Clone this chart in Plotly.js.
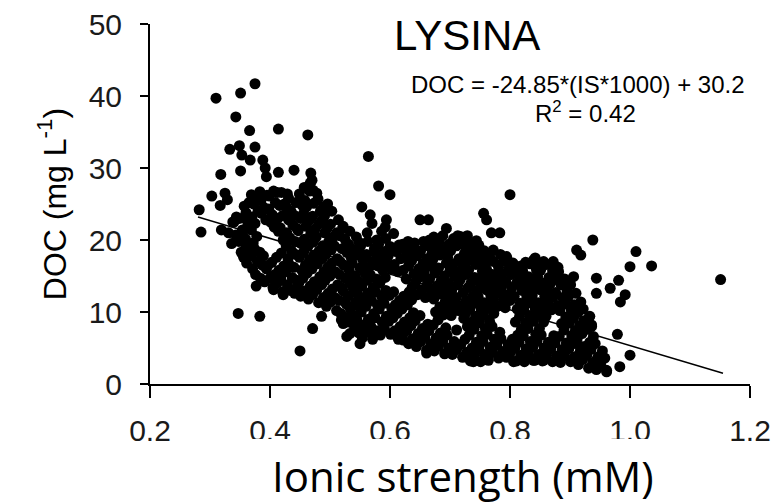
<!DOCTYPE html>
<html>
<head>
<meta charset="utf-8">
<script src="https://cdn.plot.ly/plotly-3.0.1.min.js"></script>
<style>html,body{margin:0;padding:0;background:#fff;}#chart{width:784px;height:503px;}</style>
</head>
<body>
<div id="chart"></div>
<script>
// Scattered / edge points
const isEdge = [0.375,0.351,0.310,0.343,0.366,0.414,0.463,0.333,0.349,0.375,0.353,0.367,0.388,0.392,0.318,0.351,0.394,0.414,0.440,0.468,0.303,0.325,0.317,0.329,0.282,0.285,0.344,0.319,0.383,0.467,0.478,0.347,0.383,0.486,0.471,0.450,0.377,0.406,0.422,0.444,0.458,0.519,0.528,
  0.564,0.581,0.600,0.553,0.567,0.570,0.594,0.606,0.650,0.664,0.694,0.800,0.756,0.761,0.769,0.783,0.678,0.656,0.622,0.600,0.550,0.522,0.717,0.839,0.819,0.794,0.550,0.572,0.622,0.661,0.711,0.739,0.767,0.806,0.839,0.522,0.533,
  0.938,0.911,0.918,1.010,1.000,1.036,1.151,0.944,0.944,0.981,0.967,0.992,0.984,0.872,0.842,0.906,0.933,0.936,0.979,1.000,0.983,0.961,0.944,0.917,0.889,0.856];
const docEdge = [41.7,40.4,39.7,37.1,35.2,35.4,34.6,32.6,33.1,32.9,31.8,31.1,31.1,30.0,29.1,29.6,28.8,29.4,29.7,29.3,26.1,26.5,24.8,25.6,24.2,21.1,23.2,21.4,26.7,27.9,26.5,9.8,9.4,9.4,7.7,4.6,13.6,13.1,12.4,13.3,12.6,8.9,6.6,
  31.6,27.5,26.3,24.6,23.5,22.3,22.8,20.9,22.8,22.8,21.6,26.3,23.7,22.8,21.0,21.0,20.0,19.8,18.8,19.1,18.1,21.9,20.5,17.2,15.6,17.7,5.6,6.8,6.1,4.3,7.5,3.1,4.3,3.1,3.3,8.4,7.0,
  20.0,18.6,17.9,18.4,16.3,16.4,14.5,14.7,12.6,14.4,13.3,12.4,11.4,17.0,17.5,14.9,9.4,8.0,6.9,4.0,2.4,1.7,3.3,5.2,4.3,3.3];

// Dense cloud, low ionic strength part
const isCoreA = [0.336,0.331,0.338, 0.352,0.348,0.354,0.349,
  0.361,0.364,0.359,0.363,0.360,0.365,
  0.376,0.379,0.374,0.378,0.375,0.380,0.377,
  0.391,0.394,0.389,0.393,0.390,0.395,
  0.405,0.408,0.403,0.407,0.404,0.409,0.406,
  0.421,0.418,0.423,0.419,0.422,0.417,0.421,0.424,0.419,
  0.434,0.437,0.432,0.436,0.433,0.438,0.435,0.431,
  0.451,0.448,0.453,0.449,0.452,0.447,0.451,0.454,0.449,
  0.464,0.467,0.462,0.466,0.463,0.468,0.465,0.461,0.466,0.470,
  0.481,0.478,0.483,0.479,0.482,0.477,0.481,0.484,0.480];
const docCoreA = [19.5,21.0,22.5, 18.3,19.8,21.4,23.0,
  16.8,18.5,20.2,22.0,23.8,25.2,
  15.2,17.0,18.8,20.5,22.3,24.0,25.6,
  14.2,16.0,17.8,22.8,24.5,26.2,
  13.4,15.2,16.9,21.8,23.5,25.2,26.8,
  12.8,14.6,16.4,18.2,20.0,21.7,23.4,25.0,26.6,
  13.0,14.8,16.6,18.5,20.3,22.1,24.0,25.8,
  12.2,14.0,15.8,17.6,19.5,21.3,23.0,24.8,26.4,
  11.8,13.6,15.4,17.3,19.1,20.9,22.7,24.6,26.8,28.3,
  11.3,13.1,14.9,16.7,18.5,20.4,22.2,24.0,25.7];

// Dense cloud, middle part
const isCoreB = [0.494,0.497,0.492,0.496,0.493,0.498,0.495,0.491,0.496,
  0.511,0.508,0.513,0.509,0.512,0.507,0.511,0.514,
  0.524,0.527,0.522,0.526,0.523,0.528,0.525,0.521,
  0.541,0.538,0.543,0.539,0.542,0.537,0.541,0.544,
  0.554,0.557,0.552,0.556,0.553,0.558,0.555,0.551,
  0.571,0.568,0.573,0.569,0.572,0.567,0.571,0.574,
  0.584,0.587,0.582,0.586,0.583,0.588,0.585,0.581,0.586,
  0.601,0.598,0.603,0.599,0.602,0.597,
  0.614,0.617,0.612,0.616,0.613,0.618,0.615,
  0.631,0.628,0.633,0.629,0.632,0.627,0.631,0.634,0.630,
  0.644,0.647,0.642,0.646,0.643,0.648,0.645,0.641,
  0.661,0.658,0.663,0.659,0.662,0.657,0.661,0.664,
  0.674,0.677,0.672,0.676,0.673,0.678,0.675,0.671,0.676,0.673,
  0.691,0.688,0.693,0.689,0.692,0.687,0.691,0.694,0.690,0.688];
const docCoreB = [10.8,12.6,14.4,16.2,18.0,19.8,21.6,23.4,25.0,
  10.2,12.0,13.8,15.6,17.4,19.2,21.0,22.8,
  9.3,11.1,12.9,14.7,16.5,18.3,20.1,21.6,
  7.8,9.6,11.4,13.2,15.0,16.8,18.6,20.4,
  6.4,8.2,10.0,11.8,13.6,15.4,17.2,19.2,
  6.2,8.0,9.8,11.6,13.4,15.2,17.0,18.8,
  6.8,8.6,10.4,12.2,14.0,15.8,17.6,19.4,21.2,
  6.9,8.7,10.5,12.3,16.0,17.8,
  6.2,8.0,9.8,11.6,15.6,17.4,19.3,
  5.6,7.4,9.2,11.0,12.8,14.6,16.4,18.2,19.8,
  5.2,7.0,8.8,12.4,14.2,16.0,17.8,19.6,
  4.7,6.5,8.3,12.0,13.8,15.6,17.4,19.2,
  4.6,6.4,8.2,10.0,11.8,13.6,15.4,17.2,19.0,20.4,
  4.2,6.0,7.8,9.6,11.4,13.2,15.0,16.8,18.6,20.6];

// Dense cloud, high ionic strength part
const isCoreC = [0.704,0.707,0.702,0.706,0.703,0.708,0.705,0.701,0.706,
  0.721,0.718,0.723,0.719,0.722,0.717,0.721,0.724,0.720,
  0.734,0.737,0.732,0.736,0.733,0.738,0.735,0.731,0.736,0.733,0.729,
  0.751,0.748,0.753,0.749,0.752,0.747,0.751,0.754,0.750,0.748,
  0.764,0.767,0.762,0.766,0.763,0.768,0.765,0.761,0.766,
  0.781,0.778,0.783,0.779,0.782,0.777,0.781,0.784,
  0.794,0.797,0.792,0.796,0.793,0.798,0.795,
  0.811,0.808,0.813,0.809,0.812,0.807,0.811,0.814,
  0.824,0.827,0.822,0.826,0.823,0.828,0.825,0.821,0.826,
  0.841,0.838,0.843,0.839,0.842,0.837,0.841,0.844,
  0.854,0.857,0.852,0.856,0.853,0.858,0.855,0.851,0.856,
  0.871,0.868,0.873,0.869,0.872,0.867,0.871,
  0.884,0.887,0.882,0.886,0.883,0.888,0.885,0.881,
  0.901,0.898,0.903,0.899,0.902,0.897,0.901,
  0.914,0.917,0.912,0.916,0.913,0.918,
  0.931,0.928,0.933,0.929,0.932,
  0.944,0.947,0.942,
  0.961,0.958];
const docCoreC = [4.1,5.9,9.5,11.3,13.1,14.9,16.7,18.5,20.2,
  3.7,5.5,9.1,10.9,12.7,14.5,16.3,18.1,19.9,
  3.2,5.0,6.8,8.6,10.4,12.2,14.0,15.8,17.6,19.5,20.6,
  3.1,4.9,6.7,8.5,10.3,12.1,13.9,15.7,17.5,19.3,
  3.3,5.1,6.9,8.7,10.5,12.3,14.1,15.9,17.7,
  3.6,5.4,7.2,10.8,12.6,14.4,16.2,18.0,
  3.7,5.5,10.6,12.4,14.2,16.0,17.4,
  3.2,5.0,6.8,8.6,10.4,12.2,14.0,15.8,
  3.1,4.9,6.7,8.5,10.3,12.1,13.9,15.7,16.9,
  3.3,5.1,6.9,8.7,10.5,12.3,14.1,15.9,
  3.2,5.0,6.8,8.6,10.4,12.2,14.0,15.8,17.0,
  3.1,4.9,6.7,10.3,12.1,13.9,15.7,
  3.0,4.8,6.6,8.4,10.2,12.0,13.8,15.6,
  3.1,4.9,6.7,8.5,10.3,12.1,13.8,
  2.7,4.5,6.3,8.1,9.9,11.4,
  2.2,4.0,5.8,7.6,9.3,
  2.0,3.8,5.6,
  1.9,3.6];

// Dense cloud, points lying between the ones above
const isCoreD = [0.343,0.340,
  0.356,0.359,0.355,0.358,0.357,
  0.371,0.368,0.372,0.369,0.370,0.373,0.369,
  0.384,0.387,0.383,0.386,0.385,
  0.400,0.397,0.401,0.398,0.399,
  0.412,0.415,0.411,0.414,0.413,0.416,0.412,
  0.429,0.426,0.430,0.427,0.428,0.431,0.427,0.429,
  0.441,0.444,0.440,0.443,0.442,0.445,0.441,0.443,
  0.458,0.455,0.459,0.456,0.457,0.460,0.456,0.458,0.457,
  0.471,0.474,0.470,0.473,0.472,0.475,0.471,0.473,0.472,
  0.489,0.486,0.490,0.487,0.488,0.491,0.487,0.489,
  0.501,0.504,0.500,0.503,0.502,0.505,0.501,0.503,
  0.518,0.515,0.519,0.516,0.517,0.520,0.516,
  0.531,0.534,0.530,0.533,0.532,0.535,0.531,0.533,
  0.548,0.545,0.549,0.546,0.547,0.550,0.546,0.548,
  0.561,0.564,0.560,0.563,0.562,0.565,0.561,0.563,0.562,
  0.578,0.575,0.579,0.576,0.577,0.580,0.576,0.578,
  0.591,0.594,0.590,0.593,0.592,0.595,0.591,0.593,0.592,
  0.608,0.605,0.609,0.606,0.607,0.610,
  0.621,0.624,0.620,0.623,0.622,0.625,0.621,
  0.638,0.635,0.639,0.636,0.637,0.640,0.636,0.638,
  0.651,0.654,0.650,0.653,0.652,0.655,0.651,
  0.668,0.665,0.669,0.666,0.667,0.670,0.666,
  0.681,0.684,0.680,0.683,0.682,0.685,0.681,0.683,0.682,
  0.698,0.695,0.699,0.696,0.697,0.700,0.696,0.698,
  0.711,0.714,0.710,0.713,0.712,0.715,0.711,0.713,
  0.728,0.725,0.729,0.726,0.727,0.730,0.726,0.728,0.727,0.725,
  0.741,0.744,0.740,0.743,0.742,0.745,0.741,0.743,0.742,0.744,
  0.758,0.755,0.759,0.756,0.757,0.760,0.756,0.758,0.757,
  0.771,0.774,0.770,0.773,0.772,0.775,0.771,0.773,0.772,
  0.788,0.785,0.789,0.786,0.787,0.790,
  0.801,0.804,0.800,0.803,0.802,0.805,
  0.818,0.815,0.819,0.816,0.817,0.820,0.816,0.818,
  0.831,0.834,0.830,0.833,0.832,0.835,0.831,0.833,
  0.848,0.845,0.849,0.846,0.847,0.850,0.846,0.848,
  0.861,0.864,0.860,0.863,0.862,0.865,0.861,
  0.878,0.875,0.879,0.876,0.877,0.880,
  0.891,0.894,0.890,0.893,0.892,0.895,0.891,
  0.908,0.905,0.909,0.906,0.907,0.910,
  0.921,0.924,0.920,0.923,0.922,
  0.938,0.935,0.939,0.936,
  0.951,0.954];
const docCoreD = [20.7,22.5,
  17.6,19.4,21.2,23.0,24.7,
  16.0,17.8,19.6,21.4,23.2,25.0,26.3,
  14.7,16.5,18.3,23.7,25.5,
  14.7,16.5,22.5,24.3,26.1,
  14.0,15.8,17.6,21.2,23.0,24.8,26.6,
  13.8,15.6,17.4,19.2,21.0,22.8,24.6,26.4,
  12.6,14.4,16.2,18.0,19.8,21.6,23.4,25.2,
  12.9,14.7,16.5,18.3,20.1,21.9,23.7,25.5,27.3,
  12.4,14.2,16.0,17.9,19.7,21.5,23.3,25.1,26.9,
  12.0,13.8,15.6,17.4,19.2,21.0,22.8,24.6,
  11.4,13.2,15.0,16.8,18.6,20.4,22.2,24.0,
  9.8,11.6,13.4,15.2,17.0,18.8,20.6,
  8.6,10.4,12.2,14.0,15.8,17.6,19.4,21.2,
  7.1,8.9,10.7,12.5,14.3,16.1,17.9,19.7,
  7.2,9.0,10.8,12.6,14.4,16.2,18.0,19.8,21.0,
  7.4,9.2,11.0,12.8,14.6,16.4,18.2,20.0,
  7.6,9.4,11.2,13.0,14.8,16.6,18.4,20.2,21.8,
  7.4,9.2,11.0,12.8,16.6,18.4,
  6.8,8.6,10.4,12.2,15.8,17.6,19.4,
  6.3,8.1,9.9,11.7,13.5,15.3,17.1,18.9,
  5.9,7.7,9.5,13.1,14.9,16.7,18.5,
  5.6,7.4,12.8,14.6,16.4,18.2,20.0,
  5.3,7.1,8.9,10.7,12.5,14.3,16.1,17.9,19.7,
  5.0,6.8,10.4,12.2,14.0,15.8,17.6,19.4,
  4.8,10.2,12.0,13.8,15.6,17.4,19.2,20.6,
  4.4,6.2,8.0,9.8,11.6,13.4,15.2,17.0,18.8,20.4,
  4.0,5.8,7.6,9.4,11.2,13.0,14.8,16.6,18.4,19.9,
  4.1,5.9,7.7,9.5,11.3,13.1,14.9,16.7,18.5,
  4.4,6.2,8.0,9.8,11.6,13.4,15.2,17.0,18.6,
  4.5,6.3,11.7,13.5,15.3,17.1,
  4.4,6.2,11.6,13.4,15.2,16.8,
  4.0,5.8,7.6,9.4,11.2,13.0,14.8,16.4,
  4.1,5.9,7.7,9.5,11.3,13.1,14.9,16.7,
  4.1,5.9,7.7,9.5,11.3,13.1,14.9,16.7,
  4.0,5.8,9.4,11.2,13.0,14.8,16.6,
  3.9,5.7,10.9,12.7,14.5,16.2,
  3.9,5.7,7.5,9.3,11.1,12.9,14.6,
  3.8,5.6,7.4,9.2,11.0,12.6,
  3.4,5.2,7.0,8.8,10.4,
  3.0,4.8,6.6,8.2,
  2.8,4.6];

// Regression line endpoints (as read)
const fitIS = [0.28, 1.155];
const fitDOC = [23.2, 1.5];

const xTicks = [0.2, 0.4, 0.6, 0.8, 1.0, 1.2];
const xTickText = ["0.2", "0.4", "0.6", "0.8", "1.0", "1.2"];
const yTicks = [0, 10, 20, 30, 40, 50];

const allIS = [].concat(isEdge, isCoreA, isCoreB, isCoreC, isCoreD);
const allDOC = [].concat(docEdge, docCoreA, docCoreB, docCoreC, docCoreD);

const arial = "Liberation Sans, Arial, sans-serif";

const traces = [
  {x: allIS, y: allDOC, type: "scatter", mode: "markers",
   marker: {color: "#000", size: 11, line: {width: 0}}, hoverinfo: "skip", cliponaxis: false},
  {x: fitIS, y: fitDOC, type: "scatter", mode: "lines",
   line: {color: "#000", width: 1.5}, hoverinfo: "skip"}
];

const layout = {
  width: 784, height: 503,
  margin: {l: 150, r: 34, t: 24, b: 119},
  paper_bgcolor: "#fff", plot_bgcolor: "#fff",
  showlegend: false,
  font: {family: arial, color: "#000"},
  xaxis: {range: [0.2, 1.2], tickvals: xTicks, ticktext: xTickText,
    showline: true, linecolor: "#000", linewidth: 2, mirror: false,
    ticks: "outside", ticklen: 12, tickwidth: 2, tickcolor: "#000",
    showgrid: false, zeroline: false, ticklabelstandoff: 7,
    tickfont: {family: arial, size: 30, color: "#1a1a1a"}},
  yaxis: {range: [0, 50], tickvals: yTicks,
    showline: true, linecolor: "#000", linewidth: 2,
    ticks: "outside", ticklen: 8, tickwidth: 2, tickcolor: "#000",
    showgrid: false, zeroline: false, ticklabelstandoff: 12,
    tickfont: {family: arial, size: 30, color: "#1a1a1a"}},
  shapes: [
    {type: "rect", xref: "paper", yref: "paper", x0: 0.165, x1: 0.9, y0: -0.153, y1: -0.34,
     fillcolor: "#fff", line: {width: 0}, layer: "above"}
  ],
  annotations: [
    {text: "LYSINA", xref: "paper", yref: "paper", x: 0.529, y: 0.969,
     xanchor: "center", yanchor: "middle", showarrow: false,
     font: {family: arial, size: 42, color: "#000"}},
    {text: "DOC = -24.85*(IS*1000) + 30.2", xref: "paper", yref: "paper", x: 0.713, y: 0.833,
     xanchor: "center", yanchor: "middle", showarrow: false,
     font: {family: arial, size: 24, color: "#000"}},
    {text: "R<sup>2</sup> = 0.42", xref: "paper", yref: "paper", x: 0.725, y: 0.756,
     xanchor: "center", yanchor: "middle", showarrow: false,
     font: {family: arial, size: 24, color: "#000"}},
    {text: "DOC (mg L<sup>-1</sup>)", xref: "paper", yref: "paper", x: -0.163, y: 0.5,
     xanchor: "center", yanchor: "middle", textangle: -90, showarrow: false,
     font: {family: arial, size: 32, color: "#000"}},
    {text: "Ionic strength (mM)", xref: "paper", yref: "paper", x: 0.521, y: -0.255,
     xanchor: "center", yanchor: "middle", showarrow: false,
     font: {family: "Open Sans, Lato, sans-serif", size: 42, color: "#000"}}
  ]
};

Plotly.newPlot("chart", traces, layout, {staticPlot: true, displayModeBar: false});
</script>
</body>
</html>
